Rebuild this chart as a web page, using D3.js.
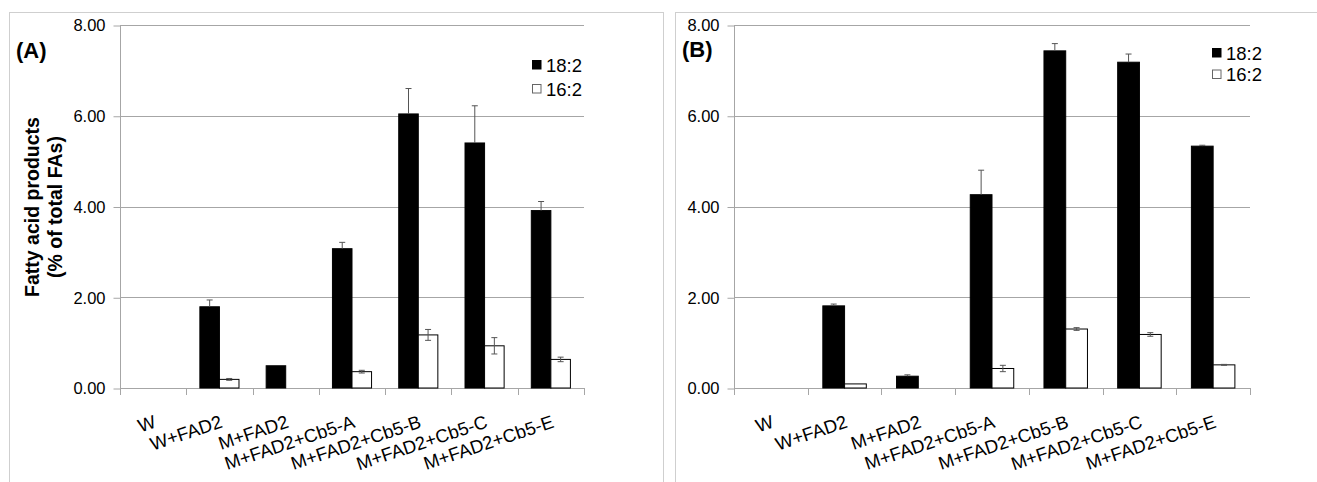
<!DOCTYPE html>
<html>
<head>
<meta charset="utf-8">
<script src="https://cdn.jsdelivr.net/npm/d3@7"></script>
<style>
  body { margin: 0; background: #fff; }
  svg { display: block; }
  text { font-family: Arial, "Liberation Sans", sans-serif; fill: #000; }
</style>
</head>
<body>
<svg id="chart"></svg>
<script>
"use strict";

// categories and series
const categories = ["W", "W+FAD2", "M+FAD2", "M+FAD2+Cb5-A", "M+FAD2+Cb5-B", "M+FAD2+Cb5-C", "M+FAD2+Cb5-E"];
const seriesNames = ["18:2", "16:2"];
const yTicks = [0, 2, 4, 6, 8];

// panel (A)
const a_18_2 = [0, 1.79, 0.49, 3.07, 6.04, 5.40, 3.91];
const a_18_2_err = [0, 0.15, 0, 0.14, 0.56, 0.82, 0.20];
const a_16_2 = [0, 0.19, 0, 0.36, 1.17, 0.93, 0.63];
const a_16_2_err = [0, 0.02, 0, 0.03, 0.12, 0.18, 0.05];

// panel (B)
const b_18_2 = [0, 1.81, 0.26, 4.26, 7.43, 7.18, 5.33];
const b_18_2_err = [0, 0.04, 0.03, 0.54, 0.16, 0.18, 0.02];
const b_16_2 = [0, 0.09, 0, 0.43, 1.30, 1.18, 0.51];
const b_16_2_err = [0, 0, 0, 0.07, 0.03, 0.04, 0.01];

const W = 1317, H = 482;
const plotTop = 25, plotBottom = 388;
const gridColor = "#a6a6a6";
const errColor = "#555";

const svg = d3.select("#chart").attr("width", W).attr("height", H);

const panels = [
  { label: "(A)", frameX: 9.5, frameW: 654, left: 120, right: 584,
    labelX: 16, labelY: 58, legendX: 532, legendY: 60, legendStep: 24,
    values: [a_18_2, a_16_2], errors: [a_18_2_err, a_16_2_err], yTitle: true },
  { label: "(B)", frameX: 675.5, frameW: 700, left: 734, right: 1250,
    labelX: 682, labelY: 57, legendX: 1212, legendY: 48, legendStep: 21.5,
    values: [b_18_2, b_16_2], errors: [b_18_2_err, b_16_2_err], yTitle: false }
];

const fills = ["#000", "#fff"];

const y = d3.scaleLinear().domain([0, 8]).range([plotBottom, plotTop]);

panels.forEach(function(p) {
  let g = svg.append("g");

  // frame round the panel
  g.append("rect")
    .attr("x", p.frameX).attr("y", 12.5)
    .attr("width", p.frameW).attr("height", H)
    .attr("fill", "none").attr("stroke", "#cfcfcf").attr("stroke-width", 1);

  let x = d3.scaleBand().domain(categories).range([p.left, p.right]);
  let bw = x.bandwidth();
  let xs = d3.scaleBand().domain(seriesNames).range([bw * 0.205, bw * 0.795]);

  // gridlines
  g.selectAll(".grid").data(yTicks.filter(d => d > 0)).enter().append("line")
    .attr("x1", p.left).attr("x2", p.right)
    .attr("y1", d => Math.round(y(d)) + 0.5).attr("y2", d => Math.round(y(d)) + 0.5)
    .attr("stroke", gridColor);

  // y axis
  let yAxis = g.append("g")
    .attr("transform", "translate(" + (p.left + 0.5) + ",0.5)")
    .call(d3.axisLeft(y).tickValues(yTicks).tickFormat(d3.format(".2f"))
      .tickSize(7).tickSizeOuter(0).tickPadding(8));
  yAxis.select(".domain").remove();
  yAxis.selectAll(".tick line").attr("stroke", gridColor);
  yAxis.selectAll(".tick text")
    .attr("font-size", 16.5).attr("fill", "#000")
    .style("font-family", "Arial, 'Liberation Sans', sans-serif");
  g.append("line")
    .attr("x1", p.left + 0.5).attr("x2", p.left + 0.5)
    .attr("y1", plotTop).attr("y2", plotBottom + 7)
    .attr("stroke", gridColor);

  // x axis with ticks between categories
  g.append("line")
    .attr("x1", p.left).attr("x2", p.right)
    .attr("y1", plotBottom + 0.5).attr("y2", plotBottom + 0.5)
    .attr("stroke", gridColor);
  let bounds = categories.map(c => x(c)).concat([x.range()[1]]).slice(1);
  g.selectAll(".xtick").data(bounds).enter().append("line")
    .attr("x1", d => Math.round(d) + 0.5).attr("x2", d => Math.round(d) + 0.5)
    .attr("y1", plotBottom).attr("y2", plotBottom + 7)
    .attr("stroke", gridColor);

  // bars
  seriesNames.forEach(function(s, si) {
    let vals = p.values[si];
    let errs = p.errors[si];
    let data = categories.map((c, i) => ({ c: c, v: vals[i], e: errs[i] }));
    let cx = d => x(d.c) + xs(s) + xs.bandwidth() / 2;

    g.selectAll(".bar" + si).data(data.filter(d => d.v > 0)).enter().append("rect")
      .attr("x", d => x(d.c) + xs(s))
      .attr("y", d => y(d.v))
      .attr("width", xs.bandwidth())
      .attr("height", d => y(0) - y(d.v))
      .attr("fill", fills[si])
      .attr("stroke", "#000")
      .attr("stroke-width", 1);

    // error bars: on the black bars only the upper half shows
    let eb = g.selectAll(".err" + si).data(data.filter(d => d.e > 0)).enter().append("g")
      .attr("stroke", errColor).attr("stroke-width", 1);
    let lower = si === 0 ? (d => d.v) : (d => Math.max(0, d.v - d.e));
    eb.append("line")
      .attr("x1", cx).attr("x2", cx)
      .attr("y1", d => y(d.v + d.e)).attr("y2", d => y(lower(d)));
    let caps = si === 0 ? [1] : [1, -1];
    caps.forEach(function(sign) {
      eb.append("line")
        .attr("x1", d => cx(d) - 3).attr("x2", d => cx(d) + 3)
        .attr("y1", d => y(d.v + sign * d.e)).attr("y2", d => y(d.v + sign * d.e));
    });
  });

  // category labels, rotated
  g.selectAll(".xlab").data(categories).enter().append("text")
    .attr("transform", d => "translate(" + (x(d) + bw / 2 + 4) + "," + 427 + ") rotate(-18.5)")
    .attr("text-anchor", "end")
    .attr("font-size", 18.5)
    .text(d => d);

  // panel letter
  g.append("text")
    .attr("x", p.labelX).attr("y", p.labelY)
    .attr("font-size", 22).attr("font-weight", "bold")
    .text(p.label);

  // legend
  seriesNames.forEach(function(s, si) {
    let ly = p.legendY + si * p.legendStep;
    g.append("rect")
      .attr("x", p.legendX + 0.5).attr("y", ly + 0.5)
      .attr("width", 8.5).attr("height", 8.5)
      .attr("fill", fills[si])
      .attr("stroke", si === 0 ? "#000" : "#666");
    g.append("text")
      .attr("x", p.legendX + 14).attr("y", ly + 11.5)
      .attr("font-size", 18.5)
      .text(s);
  });

  if (p.yTitle) {
    let t = g.append("text")
      .attr("transform", "translate(39," + 207 + ") rotate(-90)")
      .attr("text-anchor", "middle")
      .attr("font-size", 19.5).attr("font-weight", "bold");
    t.append("tspan").attr("x", 0).attr("y", 0).text("Fatty acid products");
    t.append("tspan").attr("x", 0).attr("y", 23).text("(% of total FAs)");
  }
});
</script>
</body>
</html>
